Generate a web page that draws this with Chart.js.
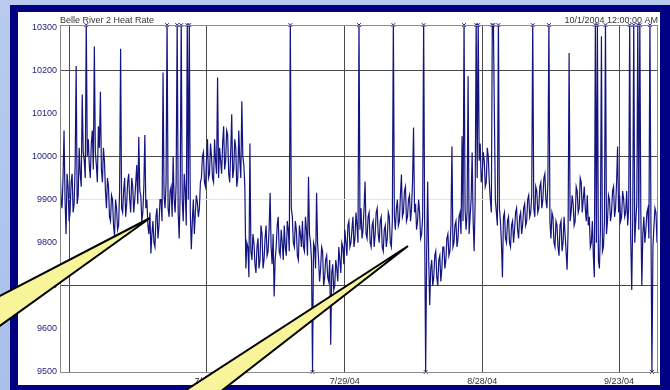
<!DOCTYPE html>
<html>
<head>
<meta charset="utf-8">
<title>Belle River 2 Heat Rate</title>
<script src="https://cdn.jsdelivr.net/npm/chart.js@4.4.1/dist/chart.umd.min.js"></script>
<style>
    html, body { margin: 0; padding: 0; background: #b4c8ec; }
    canvas { display: block; }
</style>
</head>
<body>
<canvas id="chart_heatrate" width="670" height="390"></canvas>
<script>
'use strict';

// heat rate samples left to right
const heatRate = [
    9990,9900, 9880,9950, 10060,9900, 9820,9960, 9930,9850, 9870,9940, 9960,9870, 9890,9980, 10210,9890, 9910,10020,
    9960,9930, 10144,10010, 9990,9950, 10320,10000, 10040,9980, 9950,10030, 10060,9970, 10255,10010, 9980,9940, 10070,10020,
    10150,9970, 9940,10020, 9990,9920, 9880,9950, 9930,9860, 9850,9910, 9900,9840, 9815,9900, 9880,9830, 9840,9920,
    10250,9880, 9870,9920, 9950,9860, 9890,9940, 9960,9900, 9870,9950, 9930,9870, 9900,9940, 9980,9890, 10045,9920,
    9910,9850, 9870,9930, 10050,9880, 9900,9840, 9820,9870, 9775,9820, 9850,9800, 9790,9860, 9880,9810, 9840,9900,
    9900,9850, 10195,9910, 9880,9940, 10320,9880, 9860,9920, 9930,9860, 10000,9900, 9870,9940, 10320,9870, 9810,9920,
    10320,9900, 9850,9960, 9920,9840, 10320,9900, 10320,9870, 9785,9850, 9900,9820, 9870,9910, 9893,9860, 9880,9940,
    9950,10000, 10010,9940, 9930,9990, 10040,9950, 9960,10030, 10000,9950, 9940,10040, 9990,9960, 10183,9950, 10020,9990,
    9960,10030, 10070,9970, 9990,10060, 10050,9960, 9940,10010, 10098,9950, 9970,10040, 10020,9930, 9950,10060, 9990,9950,
    10128,10000, 9980,9930, 9740,9800, 9790,9720, 10030,9780, 9760,9820, 9800,9750, 9730,9790, 9810,9740, 9760,9840,
    9820,9740, 9760,9810, 9840,9770, 9780,9830, 9916,9790, 9750,9820, 9675,9760, 9790,9840, 9860,9780, 9770,9830,
    9800,9760, 9840,9790, 9770,9850, 9830,9780, 10320,9880, 9860,9800, 9790,9850, 9830,9770, 9760,9840, 9820,9790,
    9850,9790, 9780,9860, 9830,9770, 9953,9820, 9800,9760, 9500,9800, 9790,9740, 9916,9800, 9760,9710, 9740,9790,
    9780,9700, 9720,9760, 9770,9720, 9710,9760, 9563,9730, 9750,9690, 9700,9760, 9740,9710, 9790,9760, 9730,9800,
    9790,9750, 9830,9800, 9770,9840, 9850,9790, 9800,9830, 9860,9790, 9810,9870, 9840,9800, 10320,9830, 9880,9810,
    9830,9880, 9942,9820, 9810,9860, 9870,9800, 9790,9840, 9850,9790, 9820,9870, 9880,9820, 9800,9850, 9860,9790,
    9780,9830, 9840,9790, 9810,9870, 9860,9800, 9790,9850, 10320,9860, 9830,9880, 9900,9840, 9850,9910, 9958,9860,
    9870,9920, 9930,9850, 9860,9900, 9910,9850, 9880,9940, 10067,9870, 9890,9830, 9850,9900, 9870,9810, 9820,9860,
    10320,9840, 9500,9780, 9942,9760, 9655,9740, 9760,9700, 9720,9770, 9780,9720, 9700,9760, 9770,9710, 9740,9790,
    9790,9740, 9760,9810, 9820,9770, 9780,9840, 10023,9790, 9800,9840, 9850,9790, 9810,9860, 9870,9820, 10047,9850,
    10320,9880, 9830,9870, 10186,9820, 9860,9900, 10009,9850, 9780,9900, 10320,9950, 10320,9990, 10030,9940, 9960,10010,
    9990,9930, 9940,10020, 10000,9940, 9900,9870, 10320,10320, 10100,9900, 9870,9840, 10320,9880, 9850,9800, 9720,9860,
    9870,9810, 9800,9850, 9860,9800, 9790,9840, 9850,9800, 9830,9870, 9880,9830, 9810,9860, 9870,9820, 9840,9880,
    9890,9840, 9850,9900, 9910,9860, 9870,9910, 10320,9880, 9860,9930, 9920,9870, 9880,9930, 9940,9880, 9900,9950,
    9960,9900, 9880,9940, 10320,9850, 9810,9870, 9860,9800, 9790,9850, 9840,9790, 9770,9840, 9850,9780, 9800,9860,
    9820,9780, 9737,9830, 10240,9850, 9870,9910, 9890,9840, 9850,9930, 9920,9870, 9880,9950, 9940,9870, 9900,9930,
    9880,9850, 9910,9840, 9860,9790, 9800,9850, 9770,9720, 10320,9800, 10320,9760, 9740,9830, 10279,9780, 9790,9850,
    10320,9820, 9850,9910, 9900,9850, 9870,9920, 9930,9860, 9880,9940, 10023,9870, 9910,9850, 9860,9920, 9900,9860,
    9870,9920, 9840,9880, 10320,9810, 9690,9860, 10320,9800, 9850,9890, 10320,9830, 10320,9870, 9700,9820, 9860,9800,
    9830,9870, 9880,9810, 10320,9850, 9500,9790, 9840,9880, 9870,9800, 9820
];

const xTickIdx = [9, 145.5, 282, 418, 553.5];
const xTickLabels = ['', '7/1/04', '7/29/04', '8/28/04', '9/23/04'];
const yTickValues = [9500, 9600, 9700, 9800, 9900, 10000, 10100, 10200, 10300];
const darkGridValues = [10200, 10000, 9700];
const lightGridValues = [9900];

const Y_MIN = 9500;
const Y_MAX = 10305;
const FONT = "'Liberation Sans', Arial, sans-serif";

// points that leave the scale get an x on the edge
let offScale = [];
heatRate.forEach((v, i) => {
    if (v > Y_MAX) offScale.push({ x: i, y: Y_MAX });
    else if (v <= Y_MIN) offScale.push({ x: i, y: Y_MIN });
});

function drawCallout(ctx, pts) {
    ctx.beginPath();
    ctx.moveTo(pts[0][0], pts[0][1]);
    for (let k = 1; k < pts.length; k++) ctx.lineTo(pts[k][0], pts[k][1]);
    ctx.closePath();
    ctx.fillStyle = '#f8f49a';
    ctx.fill();
    ctx.lineWidth = 2;
    ctx.lineJoin = 'miter';
    ctx.strokeStyle = '#000';
    ctx.stroke();
}

const framePlugin = {
    id: 'frame',
    beforeDraw(chart) {
        const ctx = chart.ctx;
        ctx.save();
        let bg = ctx.createLinearGradient(0, 0, 0, 390);
        bg.addColorStop(0, '#b8cbef');
        bg.addColorStop(1, '#a9c0ea');
        ctx.fillStyle = bg;
        ctx.fillRect(0, 0, 670, 390);
        ctx.fillStyle = '#000080';
        ctx.fillRect(10, 5, 660, 385);
        ctx.fillStyle = '#ffffff';
        ctx.fillRect(18, 12, 642, 373);
        ctx.restore();
    },
    afterDraw(chart) {
        const ctx = chart.ctx;
        const a = chart.chartArea;
        ctx.save();
        ctx.strokeStyle = '#8a8a8a';
        ctx.lineWidth = 1;
        ctx.strokeRect(a.left + 0.5, a.top + 0.5, a.right - a.left - 1, a.bottom - a.top);

        ctx.font = '9px ' + FONT;
        ctx.fillStyle = '#333';
        ctx.textBaseline = 'alphabetic';
        ctx.textAlign = 'left';
        ctx.fillText('Belle River 2 Heat Rate', a.left, a.top - 2);
        ctx.textAlign = 'right';
        ctx.fillText('10/1/2004 12:00:00 AM', a.right, a.top - 2);

        drawCallout(ctx, [[150, 218], [-10, 301], [-10, 333]]);
        drawCallout(ctx, [[408, 246], [183, 392], [220, 392]]);
        ctx.restore();
    }
};

const ctx = document.querySelector('#chart_heatrate');
new Chart(ctx, {
    type: 'line',
    data: {
        datasets: [{
            label: 'Heat Rate',
            data: heatRate.map((v, i) => ({ x: i, y: v })),
            borderColor: '#14147f',
            borderWidth: 1.2,
            pointRadius: 0,
            tension: 0
        }, {
            type: 'scatter',
            label: 'Off scale',
            data: offScale,
            pointStyle: 'crossRot',
            pointRadius: 2.5,
            borderColor: '#14147f',
            borderWidth: 1,
            clip: false
        }]
    },
    options: {
        responsive: false,
        animation: false,
        devicePixelRatio: 1,
        layout: { padding: { top: 25, right: 12, left: 0, bottom: 0 } },
        plugins: {
            legend: { display: false },
            tooltip: { enabled: false }
        },
        scales: {
            x: {
                type: 'linear',
                min: 0,
                max: heatRate.length - 1,
                afterFit: (scale) => { scale.height = 18; },
                afterBuildTicks: (scale) => {
                    scale.ticks = xTickIdx.map(v => ({ value: v }));
                },
                grid: { color: '#4a4a4a', drawTicks: false },
                border: { color: '#8a8a8a' },
                ticks: {
                    autoSkip: false,
                    maxRotation: 0,
                    padding: 4,
                    color: '#333',
                    font: { family: FONT, size: 9 },
                    callback: (value, index) => xTickLabels[index]
                }
            },
            y: {
                min: Y_MIN,
                max: Y_MAX,
                afterFit: (scale) => { scale.width = 60; },
                afterBuildTicks: (scale) => {
                    scale.ticks = yTickValues.map(v => ({ value: v }));
                },
                grid: {
                    drawTicks: false,
                    color: (c) => {
                        const v = c.tick ? c.tick.value : null;
                        if (darkGridValues.includes(v)) return '#4a4a4a';
                        if (lightGridValues.includes(v)) return '#e2e2e2';
                        return 'rgba(0,0,0,0)';
                    }
                },
                border: { color: '#8a8a8a' },
                ticks: {
                    padding: 3,
                    color: '#23237a',
                    font: { family: FONT, size: 9 },
                    callback: (v) => String(v)
                }
            }
        }
    },
    plugins: [framePlugin]
});
</script>
</body>
</html>
